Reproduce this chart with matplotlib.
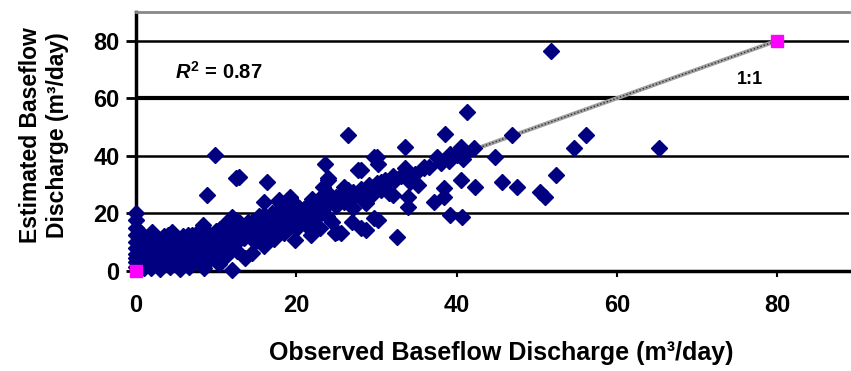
import matplotlib.pyplot as plt

# observed vs estimated baseflow discharge (m3/day)
observed = [
    0, 0, 0, 0, 0, 0, 0, 0, 0, 0, 0.4, 0.8, 1, 1.2, 1.5, 1.8, 0.6, 1.3, 2, 2,
    2.2, 2.5, 2.8, 3, 3.2,
    3.5, 3.5, 4, 4.2, 4.5, 4.6, 5, 5, 5.3, 5.5, 5.8, 6, 6.2, 6.5, 6.6, 6.8,
    7, 7.2, 7.5, 7.8, 8, 8, 8.3, 8.5, 8.6, 8.9, 9, 9.2, 9.5, 9.9, 10, 10,
    10.3, 10.5, 10.8, 11, 11.2, 11.5, 11.8, 12, 12, 12.4, 12.4, 12.8, 12.2, 12.6,
    13, 13.3, 13.6, 14, 14.5, 14.4, 14.8, 15, 15.3, 15.6, 15.9, 16, 16.3, 16.4,
    16.8, 17, 17.2, 17.5, 17.8, 17.8, 18, 18.2, 18.5, 18.8,
    19.2, 19.2, 19, 19.5, 19.8, 20, 20.3, 20.6, 21, 21.2, 21.5, 21.8, 22, 22.4,
    22.8, 23, 23.3, 23.6, 23.5, 23.8, 24, 24, 24.2, 24.5, 24.8, 25.1, 25, 25.5,
    25.6, 26, 26.4, 26.5, 26.9, 27, 27.3, 27.7, 28, 28.1, 28.1, 28.5, 28.7, 28.7,
    29, 29.4, 29.7, 29.7, 30, 30.2, 30.2, 30.5, 30.6,
    31, 31.5, 32, 32.3, 32.6, 33, 33.5, 33.5, 33.9, 33.9, 34.2, 34.8, 35.2,
    35.9, 35.9,
    36.5, 37.2, 37.6, 38, 38.4, 38.4, 38.6, 39, 39.2, 39.2, 40, 40.5, 40.5, 40.5,
    40.7, 40.8, 41.3, 41.2, 42.2, 42.3,
    44.8, 45.6, 46.9, 47.5, 50.4, 51, 51.8, 52.4, 54.7, 56.1, 65.2,
    13, 14, 15, 16, 17, 18, 19, 20, 21, 22, 23, 24, 25, 26, 27, 28, 29, 30, 31,
    32, 1, 2, 3, 4, 5, 6, 7, 8, 9, 10, 11, 12, 1.5, 3, 4.5, 6, 7.5, 9, 10.5,
    13.5, 14.5, 15.5, 16.5, 17.5, 18.5, 19.5, 20.5, 21.5, 22.5, 14, 16, 18, 20,
    22, 24, 26, 11, 13, 2.5, 4, 5.5, 7, 8.5, 10,
]
estimated = [
    20, 17.5, 15, 12.5, 10, 8, 6, 4.5, 3, 1.5, 0.5, 2, 6, 9, 3.5, 1, 13, 11.5, 13.5, 5,
    7.5, 2.5, 10, 0.5, 6,
    12, 3.5, 8, 1.5, 13.5, 5, 10.5, 2.5, 7, 0.5, 12, 4, 9, 12.5, 1.5, 6.5,
    11, 3, 8, 14, 5.5, 10, 15.9, 1, 7.5, 26.3, 12, 4, 9.5, 40.2, 6.5, 14,
    2.5, 11, 8, 16, 5, 12.5, 9, 18.8, 0.3, 17.7, 32.1, 32.7, 14, 7,
    11, 15, 4.5, 13, 6.1, 17, 10, 15.5, 19, 12, 24, 8.5, 31, 16,
    14, 20, 11, 17, 24, 24.6, 15, 19, 13, 21,
    25.2, 25.8, 17, 20, 10.7, 14.5, 22, 18, 20.5, 16, 23, 12.5, 21, 18.5,
    25, 15, 29.2, 37.3, 22, 19, 31.5, 32.1, 25, 17, 13.1, 13.6, 22.5, 26,
    13.1, 24, 47.1, 28, 17.1, 22, 26, 35, 27.5, 14.8, 35, 24, 23.5, 14.2,
    29, 26.5, 18.3, 39.6, 39.6, 17.7, 37.3, 28, 31,
    30, 27, 26.3, 31.5, 11.6, 33, 43.1, 35.6, 25.8, 22.3, 31, 33.5, 30,
    35.6, 36.2,
    36, 24, 39.6, 37.5, 28.7, 25.8, 47.7, 38, 19.4, 40.5, 40.2, 43.1, 42.5, 31.5,
    18.8, 39, 55.2, 41, 42.6, 29.2,
    39.6, 31, 47.1, 29.2, 27.5, 25.8, 76.4, 33.3, 42.6, 47.1, 42.6,
    13.5, 14.5, 15, 16.5, 17.5, 18, 19.5, 20.5, 21.5, 22.5, 23.5, 24, 25.5, 26.5,
    27.5, 28.5, 30, 30.5, 31.5, 33, 1, 2.5, 3, 4, 5.5, 6, 7, 8.5, 9.5, 10, 11.5,
    12, 4, 8, 9, 10, 11.5, 13, 14.5,
    11.5, 12, 13, 14, 15, 16, 17, 18, 19, 20, 17, 19.5, 21.5, 23, 25, 27, 29,
    13.5, 16.5, 11, 12.5, 10, 12.5, 13, 11.5,
]
one_to_one = [0, 80]
y_ticks = [0, 20, 40, 60, 80]
x_ticks = [0, 20, 40, 60, 80]

plt.rcParams['font.family'] = ['Liberation Sans', 'DejaVu Sans']
plt.rcParams['font.weight'] = 'bold'
plt.rcParams['mathtext.fontset'] = 'custom'
plt.rcParams['mathtext.it'] = 'Liberation Sans:italic:bold'
plt.rcParams['mathtext.rm'] = 'Liberation Sans:bold'

fig = plt.figure(figsize=(8.51, 3.71), dpi=100)
ax = fig.add_axes([0.16, 0.27, 0.838, 0.698])

# 1:1 line, grey with a dark dotted texture
ax.plot(one_to_one, one_to_one, color='#a0a0a0', lw=3, zorder=3)
ax.plot(one_to_one, one_to_one, color='#303030', lw=1, ls=(0, (1, 1.5)), zorder=3)

ax.plot(observed, estimated, 'D', color='#000080', ms=8, mec='#000080',
        clip_on=False, zorder=4)
ax.plot(one_to_one, one_to_one, 's', color='#ff00ff', ms=8, clip_on=False, zorder=5)

ax.set_xlim(0, 89)
ax.set_ylim(0, 90)
ax.set_xticks(x_ticks)
ax.set_yticks(y_ticks)
ax.tick_params(axis='y', direction='out', length=7, width=2, pad=5, labelsize=17)
ax.tick_params(axis='x', direction='out', length=4, width=1.5, pad=13, labelsize=17)

ax.yaxis.grid(True, color='black', lw=1.8)
ax.get_ygridlines()[3].set_linewidth(3)
ax.set_axisbelow(True)

ax.spines['left'].set_linewidth(2.5)
ax.spines['bottom'].set_linewidth(2.5)
ax.spines['top'].set_color('#888888')
ax.spines['top'].set_linewidth(2)
ax.spines['right'].set_visible(False)

ax.text(10.3, 69, r'$R^2$ = 0.87', ha='center', va='center', fontsize=14.5)
ax.text(76.6, 66.4, '1:1', ha='center', va='center', fontsize=13)

fig.text(501 / 851, 1 - 353 / 371, 'Observed Baseflow Discharge (m³/day)',
         ha='center', va='center', fontsize=18)
fig.text(44 / 851, 1 - 135 / 371, 'Estimated Baseflow\nDischarge (m³/day)',
         ha='center', va='center', rotation=90, fontsize=16.5, linespacing=1.25)

plt.savefig('out.png', dpi=100)
